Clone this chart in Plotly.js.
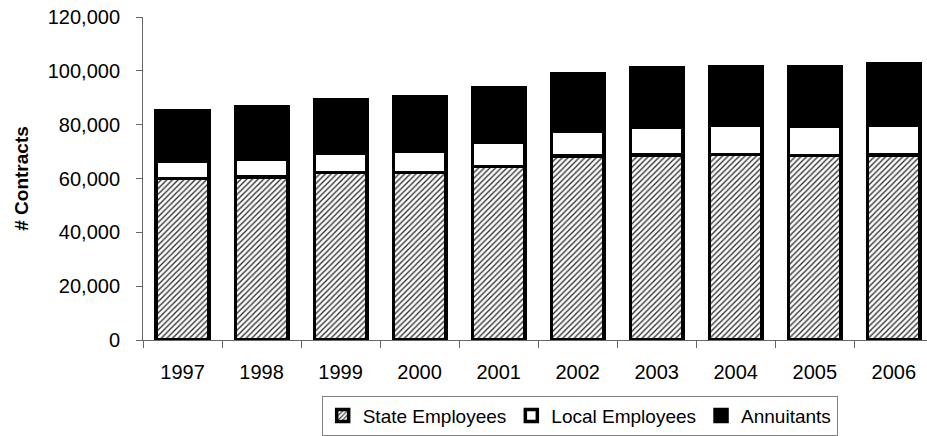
<!DOCTYPE html>
<html>
<head>
<meta charset="utf-8">
<script src="https://cdn.plot.ly/plotly-3.0.1.min.js"></script>
<style>
html,body{margin:0;padding:0;background:#fff;overflow:hidden;}
#chart{width:927px;height:436px;}
</style>
</head>
<body>
<div id="chart"></div>
<script>
const years = ["1997","1998","1999","2000","2001","2002","2003","2004","2005","2006"];
const stateEmployees = [60000, 60500, 62300, 62300, 64500, 68300, 68800, 69000, 68500, 68800];
const localEmployees = [6300, 6500, 7200, 7700, 8800, 9300, 10400, 10800, 10900, 11100];
const annuitants = [18900, 19600, 19800, 20400, 20600, 21400, 22000, 21900, 22300, 22800];
const seriesNames = ["State Employees", "Local Employees", "Annuitants"];

const FONT = "Liberation Sans, Arial, Helvetica, sans-serif";
const outline = {color: "#000", width: 3.5};

const traces = [
  {
    type: "bar", name: seriesNames[0], x: years, y: stateEmployees,
    marker: {color: "#fff", line: outline,
      pattern: {shape: "/", size: 4, solidity: 0.35, fgcolor: "#333", bgcolor: "#fff"}}
  },
  {
    type: "bar", name: seriesNames[1], x: years, y: localEmployees,
    marker: {color: "#fff", line: outline}
  },
  {
    type: "bar", name: seriesNames[2], x: years, y: annuitants,
    marker: {color: "#000", line: outline}
  }
];

const layout = {
  width: 927, height: 436,
  margin: {l: 143, r: 0, t: 17, b: 94},
  paper_bgcolor: "#fff", plot_bgcolor: "#fff",
  font: {family: FONT, size: 20, color: "#000"},
  barmode: "stack",
  bargap: 0.335,
  showlegend: true,
  legend: {
    orientation: "h", x: 0.557, xanchor: "center", y: -0.172, yanchor: "top",
    bordercolor: "#808080", borderwidth: 1, bgcolor: "#fff",
    font: {family: FONT, size: 19, color: "#000"},
    traceorder: "normal", itemwidth: 30
  },
  xaxis: {
    type: "category", range: [-0.5, 9.42],
    showline: true, linecolor: "#666", linewidth: 1,
    ticks: "outside", ticklen: 7, tickcolor: "#666", tickson: "boundaries",
    ticklabelstandoff: 14,
    showgrid: false, zeroline: false, fixedrange: true
  },
  xaxis2: {
    overlaying: "x", anchor: "y", type: "linear", range: [-0.5, 9.42],
    tick0: -0.5, dtick: 1, ticks: "inside", ticklen: 6, tickcolor: "#666",
    showticklabels: false, showline: false, showgrid: false, zeroline: false
  },
  yaxis: {
    range: [0, 120000], dtick: 20000, tickformat: ",d",
    showline: true, linecolor: "#666", linewidth: 1,
    ticks: "outside", ticklen: 6, tickcolor: "#666",
    ticklabelstandoff: 12,
    showgrid: false, zeroline: false, fixedrange: true,
    title: {text: "<b># Contracts</b>", font: {family: FONT, size: 19, color: "#000"}, standoff: 14}
  },
  yaxis2: {
    overlaying: "y", anchor: "x", range: [0, 120000], dtick: 20000,
    ticks: "inside", ticklen: 4, tickcolor: "#666",
    showticklabels: false, showline: false, showgrid: false, zeroline: false
  }
};

Plotly.newPlot("chart", traces, layout, {staticPlot: true, displayModeBar: false});
</script>
</body>
</html>
